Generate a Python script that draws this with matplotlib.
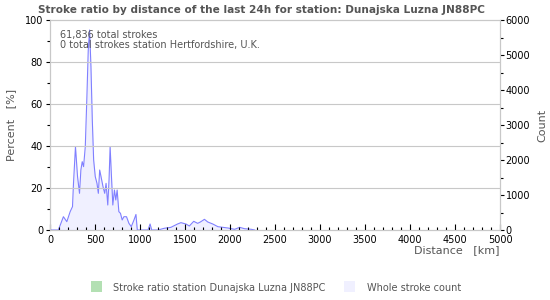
import numpy as np
import matplotlib.pyplot as plt
from matplotlib.patches import Rectangle

# distance (km) and whole stroke count
distance = [0, 93, 149, 187, 224, 250, 261, 283, 306, 328, 343, 358, 373, 392, 410, 425,
            440, 455, 470, 485, 503, 522, 537, 552, 567, 589, 608, 623, 642, 656, 668,
            683, 698, 716, 731, 746, 765, 783, 802, 821, 850, 877, 903, 933, 955, 970,
            1089, 1112, 1130, 1200, 1268, 1343, 1417, 1455, 1511, 1548, 1597, 1641, 1671,
            1716, 1753, 1809, 1865, 1921, 1977, 2051, 2107, 2160, 2237, 2275]
count = [0, 0, 380, 238, 524, 667, 1333, 2381, 1524, 1048, 1714, 1952, 1810, 2381, 3810, 5143,
         5714, 4667, 3143, 2000, 1524, 1333, 1048, 1714, 1524, 1238, 1048, 1333, 714, 1429, 2381,
         1524, 714, 1143, 857, 1143, 524, 476, 286, 380, 380, 190, 95, 286, 444, 0,
         0, 171, 0, 0, 48, 76, 171, 210, 171, 114, 248, 190, 229,
         305, 229, 171, 95, 76, 57, 19, 76, 38, 19, 0]

title = "Stroke ratio by distance of the last 24h for station: Dunajska Luzna JN88PC"
info_lines = ["61,836 total strokes", "0 total strokes station Hertfordshire, U.K."]
legend_labels = ["Stroke ratio station Dunajska Luzna JN88PC", "Whole stroke count"]

txt = "#555555"
grid = "#c8c8c8"

plt.rcParams["font.family"] = "DejaVu Sans"
fig = plt.figure(figsize=(5.5, 3), dpi=100)
ax = fig.add_axes([50 / 550, 70 / 300, 450 / 550, 210 / 300])
ax2 = ax.twinx()

ax2.fill_between(distance, count, color="#f0f0ff", lw=0)
ax2.plot(distance, count, color="#8080ff", lw=0.8)
ax2.set_ylim(0, 6000)
ax2.set_yticks(np.arange(0, 6001, 1000))
ax2.set_yticks(np.arange(500, 6000, 1000), minor=True)

ax.set_xlim(0, 5000)
ax.set_ylim(0, 100)
ax.set_yticks(np.arange(0, 101, 20))
ax.set_yticks(np.arange(10, 100, 20), minor=True)
ax.set_xticks(np.arange(0, 5001, 500))
ax.set_xticks(np.arange(0, 5001, 100), minor=True)
for v in range(20, 100, 20):
    ax.axhline(v, color=grid, lw=0.8, zorder=0)
ax.set_zorder(ax2.get_zorder() + 1)
ax.patch.set_visible(False)

for a in (ax, ax2):
    for s in a.spines.values():
        s.set_color(grid)
        s.set_linewidth(0.8)
    a.tick_params(labelsize=7, colors="black", labelcolor="black", length=3, width=0.8)
    a.tick_params(which="minor", length=2, width=0.8)
ax.tick_params(axis="x", direction="in", length=4)
ax.tick_params(axis="x", which="minor", direction="in", length=2)
ax.tick_params(axis="y", pad=2)
ax2.tick_params(axis="y", pad=1)

ax.set_ylabel("Percent   [%]", fontsize=8, color=txt, labelpad=6)
ax2.set_ylabel("Count", fontsize=8, color=txt, labelpad=5)
fig.text(500 / 550, 1 - 250 / 300, "Distance   [km]", fontsize=8, color=txt, ha="right", va="center")

fig.text(261 / 550, 1 - 10 / 300, title, fontsize=7.6, fontweight="bold", color=txt, ha="center", va="center")
for i, line in enumerate(info_lines):
    fig.text(60 / 550, 1 - (35 + 10 * i) / 300, line, fontsize=7, color=txt, va="center")

# legend
fig.patches.append(Rectangle((91 / 550, 1 - 292 / 300), 11 / 550, 11 / 300, transform=fig.transFigure,
                             facecolor="#b3e0b3", edgecolor="none"))
fig.text(113 / 550, 1 - 288 / 300, legend_labels[0], fontsize=7, color=txt, va="center")
fig.patches.append(Rectangle((344 / 550, 1 - 292 / 300), 11 / 550, 11 / 300, transform=fig.transFigure,
                             facecolor="#f0f0ff", edgecolor="none"))
fig.text(367 / 550, 1 - 288 / 300, legend_labels[1], fontsize=7, color=txt, va="center")

fig.savefig("out.png", dpi=100)
